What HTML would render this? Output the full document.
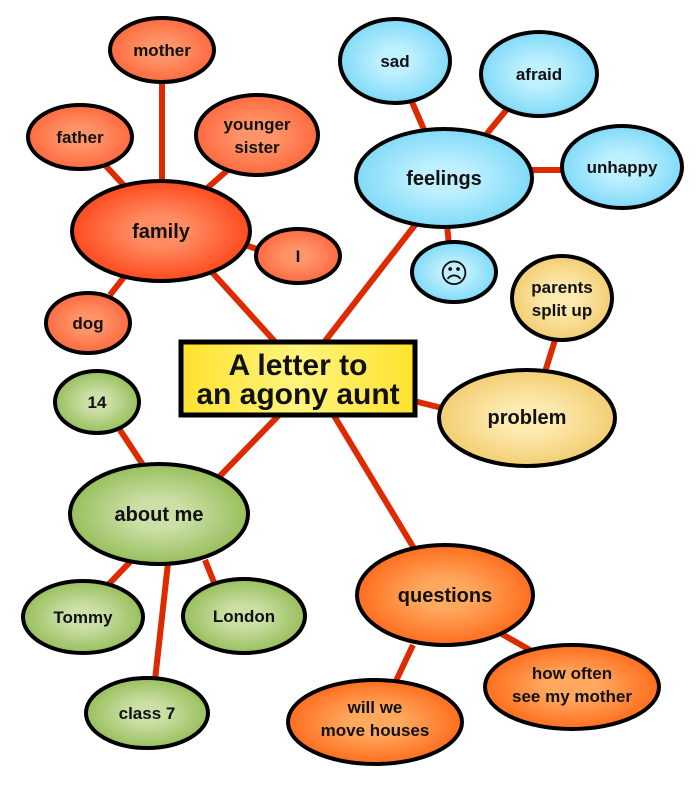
<!DOCTYPE html>
<html><head><meta charset="utf-8"><style>html,body{margin:0;padding:0;background:#fff}svg{display:block}text{font-family:"Liberation Sans","DejaVu Sans",sans-serif;font-weight:bold;fill:#111;text-anchor:middle}</style></head><body>
<svg width="700" height="785" viewBox="0 0 700 785" xmlns="http://www.w3.org/2000/svg">
<defs>
<radialGradient id="r1"><stop offset="0.3" stop-color="#ff8c62"/><stop offset="1" stop-color="#ff4a1e"/></radialGradient>
<radialGradient id="r2"><stop offset="0.3" stop-color="#ff9468"/><stop offset="1" stop-color="#ff6a40"/></radialGradient>
<radialGradient id="b1"><stop offset="0.3" stop-color="#bff0ff"/><stop offset="1" stop-color="#80daf8"/></radialGradient>
<radialGradient id="y1"><stop offset="0.3" stop-color="#fdeab0"/><stop offset="1" stop-color="#f3ce72"/></radialGradient>
<radialGradient id="g1"><stop offset="0.3" stop-color="#cbdfa6"/><stop offset="1" stop-color="#98bf5c"/></radialGradient>
<radialGradient id="o1"><stop offset="0.3" stop-color="#ffa85e"/><stop offset="1" stop-color="#ff6e1e"/></radialGradient>
<linearGradient id="c1"><stop offset="0" stop-color="#ffe22e"/><stop offset="0.5" stop-color="#fff47e"/><stop offset="1" stop-color="#ffe22e"/></linearGradient>
</defs>
<g stroke="#dd2a00" stroke-width="6" fill="none">
<line x1="162" y1="84" x2="162" y2="185"/>
<line x1="105" y1="165" x2="130" y2="192"/>
<line x1="205" y1="190" x2="230" y2="168"/>
<line x1="245" y1="245" x2="260" y2="250"/>
<line x1="110" y1="295" x2="128" y2="272"/>
<line x1="210" y1="270" x2="278" y2="345"/>
<line x1="415" y1="225" x2="322" y2="345"/>
<line x1="412" y1="102" x2="425" y2="132"/>
<line x1="508" y1="108" x2="485" y2="136"/>
<line x1="530" y1="170" x2="565" y2="170"/>
<line x1="447" y1="225" x2="449" y2="245"/>
<line x1="555" y1="340" x2="545" y2="372"/>
<line x1="410" y1="400" x2="442" y2="408"/>
<line x1="280" y1="414" x2="218" y2="478"/>
<line x1="120" y1="430" x2="145" y2="468"/>
<line x1="333" y1="414" x2="415" y2="550"/>
<line x1="108" y1="585" x2="130" y2="562"/>
<line x1="205" y1="560" x2="215" y2="585"/>
<line x1="168" y1="563" x2="155" y2="680"/>
<line x1="413" y1="645" x2="395" y2="683"/>
<line x1="500" y1="633" x2="530" y2="650"/>
</g>
<g stroke="#000" stroke-width="4">
<ellipse cx="162" cy="50" rx="52" ry="32" fill="url(#r2)"/>
<ellipse cx="80" cy="137" rx="52" ry="32" fill="url(#r2)"/>
<ellipse cx="257" cy="135" rx="61" ry="40" fill="url(#r2)"/>
<ellipse cx="161" cy="231" rx="89" ry="50" fill="url(#r1)"/>
<ellipse cx="298" cy="256" rx="42" ry="27" fill="url(#r2)"/>
<ellipse cx="88" cy="323" rx="42" ry="30" fill="url(#r2)"/>
<ellipse cx="395" cy="61" rx="55" ry="42" fill="url(#b1)"/>
<ellipse cx="539" cy="74" rx="58" ry="42" fill="url(#b1)"/>
<ellipse cx="444" cy="178" rx="88" ry="49" fill="url(#b1)"/>
<ellipse cx="622" cy="167" rx="60" ry="41" fill="url(#b1)"/>
<ellipse cx="454" cy="272" rx="42" ry="30" fill="url(#b1)"/>
<ellipse cx="562" cy="298" rx="50" ry="42" fill="url(#y1)"/>
<ellipse cx="527" cy="418" rx="88" ry="48" fill="url(#y1)"/>
<ellipse cx="97" cy="402" rx="42" ry="31" fill="url(#g1)"/>
<ellipse cx="159" cy="514" rx="89" ry="50" fill="url(#g1)"/>
<ellipse cx="83" cy="617" rx="60" ry="36" fill="url(#g1)"/>
<ellipse cx="244" cy="616" rx="61" ry="37" fill="url(#g1)"/>
<ellipse cx="147" cy="713" rx="61" ry="35" fill="url(#g1)"/>
<ellipse cx="445" cy="595" rx="88" ry="50" fill="url(#o1)"/>
<ellipse cx="572" cy="687" rx="87" ry="42" fill="url(#o1)"/>
<ellipse cx="375" cy="722" rx="87" ry="42" fill="url(#o1)"/>
<rect x="181" y="342" width="234" height="73" fill="url(#c1)" stroke-width="5"/>
</g>
<g font-size="17">
<text x="162" y="56">mother</text>
<text x="80" y="143">father</text>
<text x="257" y="130">younger</text><text x="257" y="153">sister</text>
<text x="161" y="238" font-size="20">family</text>
<text x="298" y="262">I</text>
<text x="88" y="329">dog</text>
<text x="395" y="67">sad</text>
<text x="539" y="80">afraid</text>
<text x="444" y="185" font-size="20">feelings</text>
<text x="622" y="173">unhappy</text>
<text x="454" y="283" font-size="28" font-weight="normal" style="font-family:'DejaVu Sans',sans-serif">☹</text>
<text x="562" y="293">parents</text><text x="562" y="316">split up</text>
<text x="527" y="424" font-size="20">problem</text>
<text x="97" y="408">14</text>
<text x="159" y="521" font-size="20">about me</text>
<text x="83" y="623">Tommy</text>
<text x="244" y="622">London</text>
<text x="147" y="719">class 7</text>
<text x="445" y="602" font-size="20">questions</text>
<text x="572" y="679">how often</text><text x="572" y="702">see my mother</text>
<text x="375" y="713">will we</text><text x="375" y="736">move houses</text>
<text x="298" y="375" font-size="30">A letter to</text>
<text x="298" y="404" font-size="30">an agony aunt</text>
</g>
</svg>
</body></html>
